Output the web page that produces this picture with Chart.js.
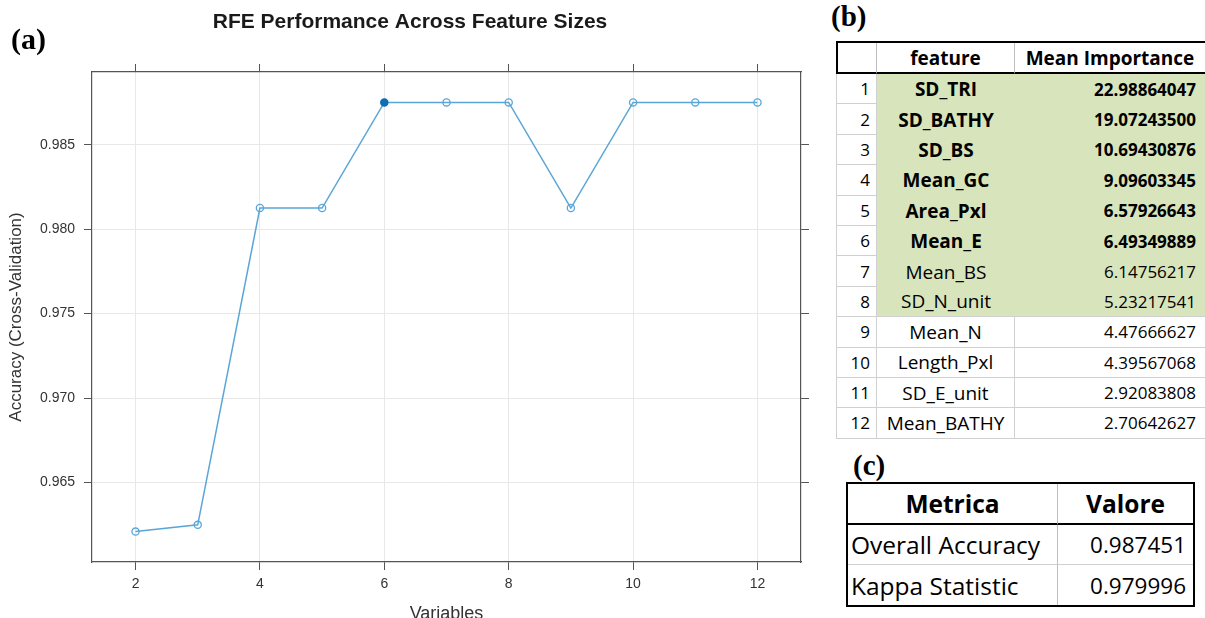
<!DOCTYPE html>
<html><head><meta charset="utf-8">
<script src="https://cdn.jsdelivr.net/npm/chart.js@4.4.1/dist/chart.umd.min.js"></script>
<style>
html,body{margin:0;padding:0;background:#fff;width:1205px;height:618px;overflow:hidden;}
#chartWrap{position:absolute;left:0;top:0;width:820px;height:618px;}
.lbl{position:absolute;font-family:'Liberation Serif','Times New Roman',serif;font-weight:bold;color:#000;line-height:1;}
.grid{position:absolute;display:grid;font-family:'Open Sans',sans-serif;color:#000;}
.grid div{box-sizing:border-box;display:flex;align-items:center;white-space:nowrap;}
#tb{left:836px;top:41px;grid-template-columns:41px 138px 190px;grid-template-rows:31px repeat(12,30.4px);font-size:17px;border-top:2px solid #000;}
#tc{left:846px;top:482px;grid-template-columns:210px 135px;grid-template-rows:41px 40px 40px;font-size:24.5px;border:2px solid #000;}
</style></head><body>
<div id="chartWrap"><canvas id="c"></canvas></div>
<div class="lbl" style="left:11px;top:24px;font-size:30px">(a)</div>
<div class="lbl" style="left:831px;top:2px;font-size:29px">(b)</div>
<div class="lbl" style="left:853px;top:451px;font-size:29px">(c)</div>
<div id="tb" class="grid"></div>
<div id="tc" class="grid"></div>
<script>
// ---- chart (a) data ----
const variables = [2, 3, 4, 5, 6, 7, 8, 9, 10, 11, 12];
const accuracy = [0.9621, 0.9625, 0.98125, 0.98125, 0.9875, 0.9875, 0.9875, 0.98125, 0.9875, 0.9875, 0.9875];
const selectedSize = 6;
const xTicks = [2, 4, 6, 8, 10, 12];
const yTicks = [0.965, 0.970, 0.975, 0.980, 0.985];

// ---- table (b) data ----
const featureRank = [1, 2, 3, 4, 5, 6, 7, 8, 9, 10, 11, 12];
const featureNames = ['SD_TRI', 'SD_BATHY', 'SD_BS', 'Mean_GC', 'Area_Pxl', 'Mean_E', 'Mean_BS', 'SD_N_unit', 'Mean_N', 'Length_Pxl', 'SD_E_unit', 'Mean_BATHY'];
const meanImportance = [22.98864047, 19.07243500, 10.69430876, 9.09603345, 6.57926643, 6.49349889, 6.14756217, 5.23217541, 4.47666627, 4.39567068, 2.92083808, 2.70642627];
const boldCount = 6;
const greenCount = 8;

// ---- table (c) data ----
const metricNames = ['Overall Accuracy', 'Kappa Statistic'];
const metricValues = [0.987451, 0.979996];

const LINE = '#5aa6d6';
const SEL = '#0f6fb3';
const AX = '#555555';
const TXT = '#333333';
const GRID = '#e8e8e8';
const fontAx = 'Liberation Sans, Arial, Helvetica, sans-serif';

function fixTicks(arr){ return function(scale){ scale.ticks = arr.map(v => ({value: v})); }; }

new Chart(document.getElementById('c'), {
  type: 'line',
  data: {
    datasets: [{
      data: variables.map((v, i) => ({x: v, y: accuracy[i]})),
      borderColor: LINE,
      borderWidth: 1.5,
      pointRadius: 3.6,
      pointBorderWidth: 1.3,
      pointBorderColor: variables.map(v => v === selectedSize ? SEL : LINE),
      pointBackgroundColor: variables.map(v => v === selectedSize ? SEL : 'rgba(255,255,255,0)'),
      tension: 0,
      fill: false
    }]
  },
  options: {
    responsive: true,
    maintainAspectRatio: false,
    animation: false,
    layout: {padding: 0},
    plugins: {
      legend: {display: false},
      tooltip: {enabled: false},
      title: {
        display: true,
        text: 'RFE Performance Across Feature Sizes',
        color: '#1a1a1a',
        font: {family: fontAx, size: 21, weight: 'bold'},
        padding: {top: 10, bottom: 4}
      }
    },
    scales: {
      x: {
        type: 'linear', position: 'bottom', min: 1.3, max: 12.7,
        afterBuildTicks: fixTicks(xTicks),
        afterFit: s => { s.height = 56; },
        grid: {color: GRID, lineWidth: 1, drawTicks: true, tickLength: 8, tickColor: AX},
        border: {display: true, color: AX, width: 1.2},
        ticks: {color: TXT, font: {family: fontAx, size: 14}, padding: 6, maxRotation: 0, callback: v => String(v)},
        title: {display: true, text: 'Variables', color: TXT, font: {family: fontAx, size: 18}, padding: {top: 0, bottom: -7}}
      },
      x2: {
        type: 'linear', position: 'top', min: 1.3, max: 12.7,
        afterBuildTicks: fixTicks(xTicks),
        afterFit: s => { s.height = 32.8; },
        grid: {drawOnChartArea: false, drawTicks: true, tickLength: 8, tickColor: AX},
        border: {display: true, color: AX, width: 1.2},
        ticks: {display: false}
      },
      y: {
        type: 'linear', position: 'left', min: 0.9603, max: 0.9893,
        afterBuildTicks: fixTicks(yTicks),
        afterFit: s => { s.width = 92; },
        grid: {color: GRID, lineWidth: 1, drawTicks: true, tickLength: 8, tickColor: AX},
        border: {display: true, color: AX, width: 1.2},
        ticks: {color: TXT, font: {family: fontAx, size: 14}, padding: 9, callback: v => v.toFixed(3)},
        title: {display: true, text: 'Accuracy (Cross-Validation)', color: TXT, font: {family: fontAx, size: 17}, padding: {top: 6, bottom: 0}}
      },
      y2: {
        type: 'linear', position: 'right', min: 0.9603, max: 0.9893,
        afterBuildTicks: fixTicks(yTicks),
        afterFit: s => { s.width = 19; },
        grid: {drawOnChartArea: false, drawTicks: true, tickLength: 8, tickColor: AX},
        border: {display: true, color: AX, width: 1.2},
        ticks: {display: false}
      }
    }
  }
});

// ---- build table (b) ----
const GREEN = '#d8e4bc';
const GL = '#d0d0d0';
const tb = document.getElementById('tb');
function cell(parent, text, css){ const d = document.createElement('div'); d.textContent = text; d.style.cssText = css; parent.appendChild(d); return d; }
const hdr = 'font-weight:bold;font-size:19px;border-bottom:2px solid #000;background:#fff;';
cell(tb, '', hdr + 'border-left:2px solid #000;border-right:1px solid #bdbdbd;');
cell(tb, 'feature', hdr + 'justify-content:center;border-right:1px solid #bdbdbd;');
cell(tb, 'Mean Importance', hdr + 'justify-content:center;');
featureNames.forEach((name, i) => {
  const green = i < greenCount;
  const bold = i < boldCount ? 'font-weight:bold;' : '';
  const lastGreen = i === greenCount - 1;
  const nm = 'font-size:19px;justify-content:center;';
  const num = 'justify-content:flex-end;padding-right:9px;';
  cell(tb, String(featureRank[i]), 'justify-content:flex-end;padding-right:6px;border-left:1px solid ' + GL + ';border-right:1px solid ' + GL + ';border-bottom:1px solid ' + GL + ';');
  if (green) {
    const bb = lastGreen ? 'border-bottom:1px solid ' + GL + ';' : '';
    cell(tb, name, bold + nm + 'background:' + GREEN + ';' + bb);
    cell(tb, meanImportance[i].toFixed(8), bold + num + 'background:' + GREEN + ';' + bb);
  } else {
    cell(tb, name, nm + 'border-right:1px solid ' + GL + ';border-bottom:1px solid ' + GL + ';');
    cell(tb, meanImportance[i].toFixed(8), num + 'border-bottom:1px solid ' + GL + ';');
  }
});

// ---- build table (c) ----
const tc = document.getElementById('tc');
cell(tc, 'Metrica', 'font-weight:bold;justify-content:center;border-bottom:2px solid #000;border-right:1px solid #bdbdbd;');
cell(tc, 'Valore', 'font-weight:bold;justify-content:center;border-bottom:2px solid #000;');
metricNames.forEach((m, i) => {
  const bb = i < metricNames.length - 1 ? 'border-bottom:1px solid ' + GL + ';' : '';
  cell(tc, m, 'justify-content:flex-start;padding-left:3px;border-right:1px solid #bdbdbd;' + bb);
  cell(tc, metricValues[i].toFixed(6), 'font-size:22.5px;justify-content:flex-end;padding-right:7px;' + bb);
});
</script>
</body></html>
